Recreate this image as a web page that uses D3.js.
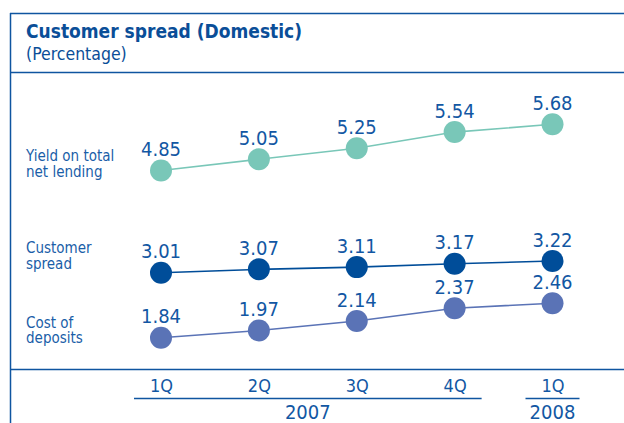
<!DOCTYPE html>
<html>
<head>
<meta charset="utf-8">
<script src="https://cdn.jsdelivr.net/npm/d3@7"></script>
<style>
  body { margin: 0; background: #fff; }
  svg { display: block; }
  .lbl { font-family: "DejaVu Sans Condensed", sans-serif; }
</style>
</head>
<body>
<script>
// data
var quarters = ["1Q", "2Q", "3Q", "4Q", "1Q"];
var years = [{ year: "2007", from: 0, to: 3 }, { year: "2008", from: 4, to: 4 }];
var yieldData = [4.85, 5.05, 5.25, 5.54, 5.68];
var spreadData = [3.01, 3.07, 3.11, 3.17, 3.22];
var costData = [1.84, 1.97, 2.14, 2.37, 2.46];
var seriesNames = [["Yield on total", "net lending"], ["Customer", "spread"], ["Cost of", "deposits"]];

// layout: where the series names sit, relative to their first dot
var nameOffset = [-9, -19.5, -10];

var width = 624, height = 423;
var blue = "#0f55a0";

var series = [
  { name: seriesNames[0], values: yieldData, color: "#79c7b8" },
  { name: seriesNames[1], values: spreadData, color: "#004d99" },
  { name: seriesNames[2], values: costData, color: "#5a73b6" }
];

var svg = d3.select("body").append("svg")
  .attr("width", width)
  .attr("height", height);

// scales
var xScale = d3.scalePoint().domain(d3.range(quarters.length)).range([161, 552.5]);
var yScale = d3.scaleLinear().domain([1.84, 5.68]).range([337.7, 124.3]);

// frame
svg.append("line").attr("x1", 10.5).attr("x2", 10.5).attr("y1", 13).attr("y2", height)
  .attr("stroke", blue).attr("stroke-width", 1.5);
svg.append("line").attr("x1", 10).attr("x2", width).attr("y1", 13.5).attr("y2", 13.5)
  .attr("stroke", blue).attr("stroke-width", 1.5);
svg.append("line").attr("x1", 10).attr("x2", width).attr("y1", 72.5).attr("y2", 72.5)
  .attr("stroke", blue).attr("stroke-width", 1.5);
svg.append("line").attr("x1", 10).attr("x2", width).attr("y1", 369.5).attr("y2", 369.5)
  .attr("stroke", blue).attr("stroke-width", 1.5);

// title
svg.append("text")
  .attr("x", 26).attr("y", 38)
  .attr("font-family", "'DejaVu Sans Condensed', sans-serif")
  .attr("font-weight", "bold")
  .attr("font-size", "19px")
  .attr("fill", "#0a4e98")
  .text("Customer spread (Domestic)");
svg.append("text")
  .attr("x", 26).attr("y", 60)
  .attr("font-family", "'DejaVu Sans Condensed', sans-serif")
  .attr("font-size", "17.5px")
  .attr("fill", "#0a4e98")
  .text("(Percentage)");

// lines, dots and labels
var line = d3.line()
  .x(function (d, i) { return xScale(i); })
  .y(function (d) { return yScale(d); });

series.forEach(function (s, k) {
  svg.append("path")
    .datum(s.values)
    .attr("d", line)
    .attr("fill", "none")
    .attr("stroke", s.color)
    .attr("stroke-width", 1.6);

  svg.selectAll(null)
    .data(s.values)
    .enter().append("circle")
    .attr("cx", function (d, i) { return xScale(i); })
    .attr("cy", function (d) { return yScale(d); })
    .attr("r", 11)
    .attr("fill", s.color);

  svg.selectAll(null)
    .data(s.values)
    .enter().append("text")
    .attr("class", "lbl")
    .attr("x", function (d, i) { return xScale(i); })
    .attr("y", function (d) { return yScale(d) - 14.5; })
    .attr("text-anchor", "middle")
    .attr("font-size", "20px")
    .attr("fill", "#1257a3")
    .text(function (d) { return d.toFixed(2); });

  // series name on the left, one text per line
  var y0 = yScale(s.values[0]) + nameOffset[k];
  svg.selectAll(null)
    .data(s.name)
    .enter().append("text")
    .attr("class", "lbl")
    .attr("x", 26)
    .attr("y", function (d, i) { return y0 + i * 15.5; })
    .attr("font-size", "15px")
    .attr("fill", "#1a5ea8")
    .text(function (d) { return d; });
});

// quarter axis
var xAxis = d3.axisBottom(xScale).tickSize(0).tickPadding(0)
  .tickFormat(function (i) { return quarters[i]; });
var gX = svg.append("g")
  .attr("transform", "translate(0,392)")
  .call(xAxis);
gX.select(".domain").remove();
gX.selectAll("text")
  .attr("class", "lbl")
  .attr("dy", 0)
  .attr("font-size", "18px")
  .attr("fill", "#1257a3");

// year groups
years.forEach(function (y) {
  var x0 = xScale(y.from) - 27, x1 = xScale(y.to) + 27;
  svg.append("line")
    .attr("x1", x0).attr("x2", x1)
    .attr("y1", 398.5).attr("y2", 398.5)
    .attr("stroke", blue).attr("stroke-width", 1.5);
  svg.append("text")
    .attr("class", "lbl")
    .attr("x", (x0 + x1) / 2)
    .attr("y", 419)
    .attr("text-anchor", "middle")
    .attr("font-size", "20px")
    .attr("fill", "#1257a3")
    .text(y.year);
});
</script>
</body>
</html>
